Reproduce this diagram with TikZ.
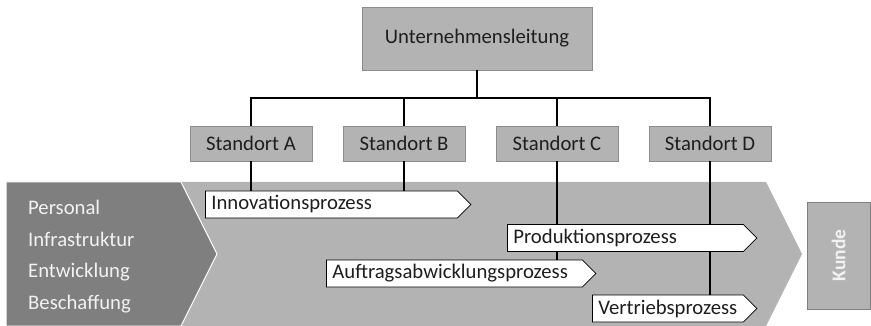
\documentclass[tikz,border=0pt]{standalone}
\usepackage{fontspec}
\setmainfont{Carlito}
\usepackage{tikz}
\usetikzlibrary{shapes.symbols}
\definecolor{boxgray}{HTML}{B3B3B3}
\definecolor{darkgray2}{HTML}{7F7F7F}
\definecolor{rimgray}{HTML}{8C8C8C}
\definecolor{txt}{HTML}{1E1E1E}
\newcommand{\bodyfont}{\fontsize{20.7}{24}\selectfont}

\begin{document}
\begin{tikzpicture}[x=1pt,y=-1pt]
            \tikzset{box/.style = {draw=rimgray, fill=boxgray, text=txt, font=\bodyfont, inner sep=0pt}}
            \tikzset{site/.style = {box, minimum width=122pt, minimum height=35pt}}
            \tikzset{proc/.style = {shape=signal, signal to=east, signal pointer angle=90, draw=black, fill=white, line width=0.8pt, text=txt, minimum height=27pt, inner xsep=6pt, inner ysep=0pt, align=left, anchor=west, font=\bodyfont}}
            \tikzset{link/.style = {-, line width=1.4pt}}
            \tikzset{side/.style = {anchor=west, text=white!95!black, inner sep=0pt, font=\bodyfont}}
            \useasboundingbox (0,0) rectangle (871,326);
            % background chevrons
            \fill[boxgray] (181,182) -- (766,182) -- (802,254) -- (766,326) -- (181,326) -- (217,254) -- cycle;
            \filldraw[fill=darkgray2, draw=white, line width=1pt] (6,182) -- (181,182) -- (217,254) -- (181,326) -- (6,326) -- cycle;
            \node[side] (pers) at (28, 207) {Personal};
            \node[side] (infra) at (28, 239) {Infrastruktur};
            \node[side] (entw) at (28, 272) {Entwicklung};
            \node[side] (besch) at (28, 304) {Beschaffung};
            % organisation
            \node[box, minimum width=230pt, minimum height=63pt] (leitung) at (477, 38.5) {Unternehmensleitung};
            \node[site] (stdA) at (251, 143.5) {Standort A};
            \node[site] (stdB) at (404, 143.5) {Standort B};
            \node[site] (stdC) at (557, 143.5) {Standort C};
            \node[site] (stdD) at (710, 143.5) {Standort D};
            \coordinate (bar) at (477, 98);
            % processes
            \node[proc, text width=240pt] (inno) at (205, 204.5) {Innovationsprozess};
            \node[proc, text width=224pt] (prod) at (507, 238) {Produktionsprozess};
            \node[proc, text width=244pt] (auft) at (326, 273.5) {Auftragsabwicklungsprozess};
            \node[proc, text width=139pt] (vert) at (592, 308.5) {Vertriebsprozess};
            \node[box, draw=darkgray2, minimum width=63pt, minimum height=107pt] (kunde) at (838.5, 255.5) {};
            \node[rotate=90, text=white!95!black, font=\fontsize{19.5}{22}\selectfont\bfseries] (kundetext) at (kunde.center) {Kunde};
            \draw[link] (leitung.south) -- (bar);
            \draw[link] (stdA.north) |- (bar -| stdD.north) -- (stdD.north);
            \draw[link] (stdB.north) -- (bar -| stdB.north);
            \draw[link] (stdC.north) -- (bar -| stdC.north);
            \draw[link] (stdA.south) -- (stdA.south |- inno.north);
            \draw[link] (stdB.south) -- (stdB.south |- inno.north);
            \draw[link] (stdC.south) -- (stdC.south |- prod.north);
            \draw[link] (stdC.south |- prod.south) -- (stdC.south |- auft.north);
            \draw[link] (stdD.south) -- (stdD.south |- prod.north);
            \draw[link] (stdD.south |- prod.south) -- (stdD.south |- vert.north);
          \end{tikzpicture}
\end{document}
